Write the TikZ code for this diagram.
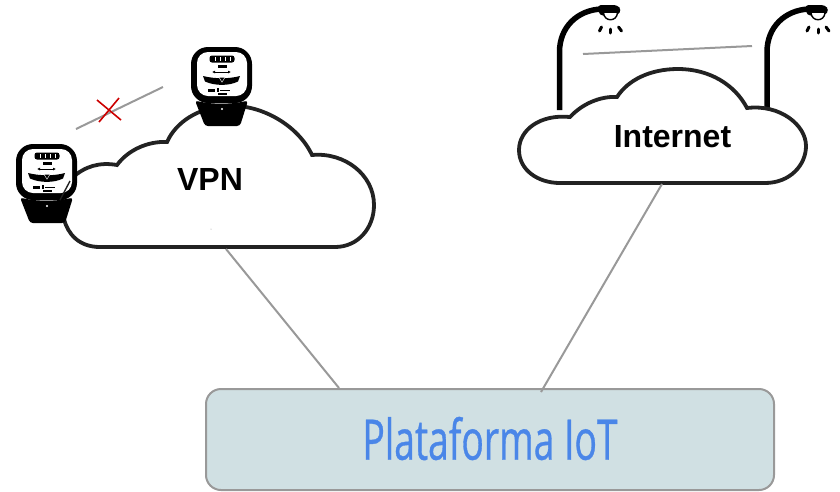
\documentclass[tikz,border=0pt]{standalone}
\usepackage{fontspec}
\setmainfont{Liberation Sans}
\newfontfamily\iotfont[FakeStretch=0.665,FakeBold=0.6]{Open Sans}
\usetikzlibrary{arrows.meta}
\definecolor{linkgray}{HTML}{999999}
\definecolor{boxfill}{HTML}{D0E0E3}
\definecolor{iotblue}{HTML}{4A86E8}
\definecolor{crossred}{HTML}{CC0000}
\definecolor{cloudline}{HTML}{222222}
\tikzset{
	cloudpath/.style={draw=cloudline,fill=white,line width=3.8pt,line join=miter},
	linkline/.style={draw=linkgray,line width=2pt},
	platformbox/.style={draw=linkgray,fill=boxfill,line width=2pt,rounded corners=15pt,
		minimum width=568pt,minimum height=101pt,inner sep=0pt,text=iotblue},
	cloudlabel/.style={font=\bfseries\fontsize{32}{32}\selectfont,text=black,inner sep=0pt},
	meter/.pic={
		% body
		\fill[black,rounded corners=17pt] (0,0) rectangle (61,56);
		\fill[white,rounded corners=11pt] (6,5) rectangle (56,49);
		% display
		\fill[black,rounded corners=2.5pt] (18.5,8.5) rectangle (43.5,15.5);
		\foreach \dx in {24,29,34,39}
			\draw[white,line width=.5pt] (\dx,10) -- (\dx,14);
		\fill[black] (26.5,17.5) rectangle (35.5,21);
		\draw[{Latex[length=3pt,width=3pt]}-{Latex[length=3pt,width=3pt]},line width=.9pt] (21,25) -- (40,25);
		% scale
		\fill[black] (12,29) .. controls (24,32) and (38,32) .. (49,29)
			-- (47,34.5) .. controls (38,39) and (24,39) .. (14,34.5) -- cycle;
		\fill[white] (27.5,30) -- (34.5,30) -- (31,35.5) -- cycle;
		\fill[black] (28.5,30.5) -- (33.5,30.5) -- (31,34.5) -- cycle;
		\fill[black] (17,41.5) rectangle (24,44.5);
		\fill[black] (25.5,41) rectangle (28,45);
		\fill[black] (29,42.5) rectangle (39,43.7);
		\fill[black] (27,45.5) rectangle (36,48);
		% foot
		\fill[black,rounded corners=3pt] (4,53.5) .. controls (20,57.5) and (41,57.5) .. (57,53.5)
			-- (49,79) -- (14,79) -- cycle;
		\fill[white] (31,62) circle (1.2pt);
	},
	lamp/.pic={
		\draw[black,line width=5.5pt] (0,110) -- (0,52) .. controls (0,27) and (18,10) .. (42,9);
		\fill[black,rounded corners=3.5pt] (38,5) -- (58,5) -- (62,10) -- (58,15.5) -- (40,15.5) -- cycle;
		\draw[black,line width=1.4pt,fill=white] (44,13) .. controls (45,22) and (57,22) .. (58,13);
		\draw[black,line width=3pt,line cap=round] (40,31) -- (42,27);
		\draw[black,line width=3pt,line cap=round] (51,29) -- (51,33);
		\draw[black,line width=3pt,line cap=round] (59,27) -- (62,31);
	}
}

\begin{document}
\begin{tikzpicture}[x=1pt,y=-1pt]

	\useasboundingbox (0,0) rectangle (840,491);

	% street lamps behind the cloud
	\pic at (559.5,0) {lamp};
	\pic at (767,0) {lamp};

	% clouds
	\path[cloudpath] (100,247) -- (335,247)
		.. controls (358,247) and (374,228) .. (374,205)
		.. controls (374,175) and (345,152) .. (312,155)
		.. controls (298,125) and (260,103) .. (225,106)
		.. controls (198,108) and (176,122) .. (167,142)
		.. controls (148,141) and (128,150) .. (117,165)
		.. controls (100,162) and (85,166) .. (72,178)
		.. controls (55,195) and (58,247) .. (100,247) -- cycle;
	\path[cloudpath] (560,183) -- (765,183)
		.. controls (790,183) and (806,165) .. (806,146)
		.. controls (806,125) and (780,104) .. (747,108)
		.. controls (735,85) and (710,69) .. (678,69)
		.. controls (650,69) and (628,80) .. (617,97)
		.. controls (600,96) and (582,104) .. (570,117)
		.. controls (540,114) and (519,130) .. (519,150)
		.. controls (519,170) and (538,183) .. (560,183) -- cycle;

	\node[cloudlabel] (vpn) at (210,179) {VPN};
	\node[cloudlabel] (internet) at (672.5,137) {Internet};
	\fill[linkgray] (211,229) circle (.5pt);

	% electricity meters
	\pic at (191,47) {meter};
	\pic at (16,144) {meter};
	\draw[cloudline,line width=1.4pt] (70,181) -- (60,200);

	% platform
	\node[platformbox,font=\iotfont\fontsize{56}{56}\selectfont] (platform) at (490,439.5) {\raisebox{2.5pt}{Plataforma IoT}};

	% links
	\coordinate (vpnlink) at (226,249);
	\coordinate (platformleft) at (339,388);
	\coordinate (internetlink) at (662,184);
	\coordinate (platformright) at (541,392);
	\draw[linkline] (vpnlink) -- (platformleft);
	\draw[linkline] (internetlink) -- (platformright);

	\coordinate (lampa) at (583,54);
	\coordinate (lampb) at (752,46);
	\draw[linkline] (lampa) -- (lampb);

	\coordinate (metera) at (76,129);
	\coordinate (meterb) at (163,87);
	\draw[linkline] (metera) -- (meterb);

	% broken link
	\draw[crossred,line width=1.6pt] (97,100) -- (121,120);
	\draw[crossred,line width=1.6pt] (119,98) -- (99,122);

\end{tikzpicture}
\end{document}
